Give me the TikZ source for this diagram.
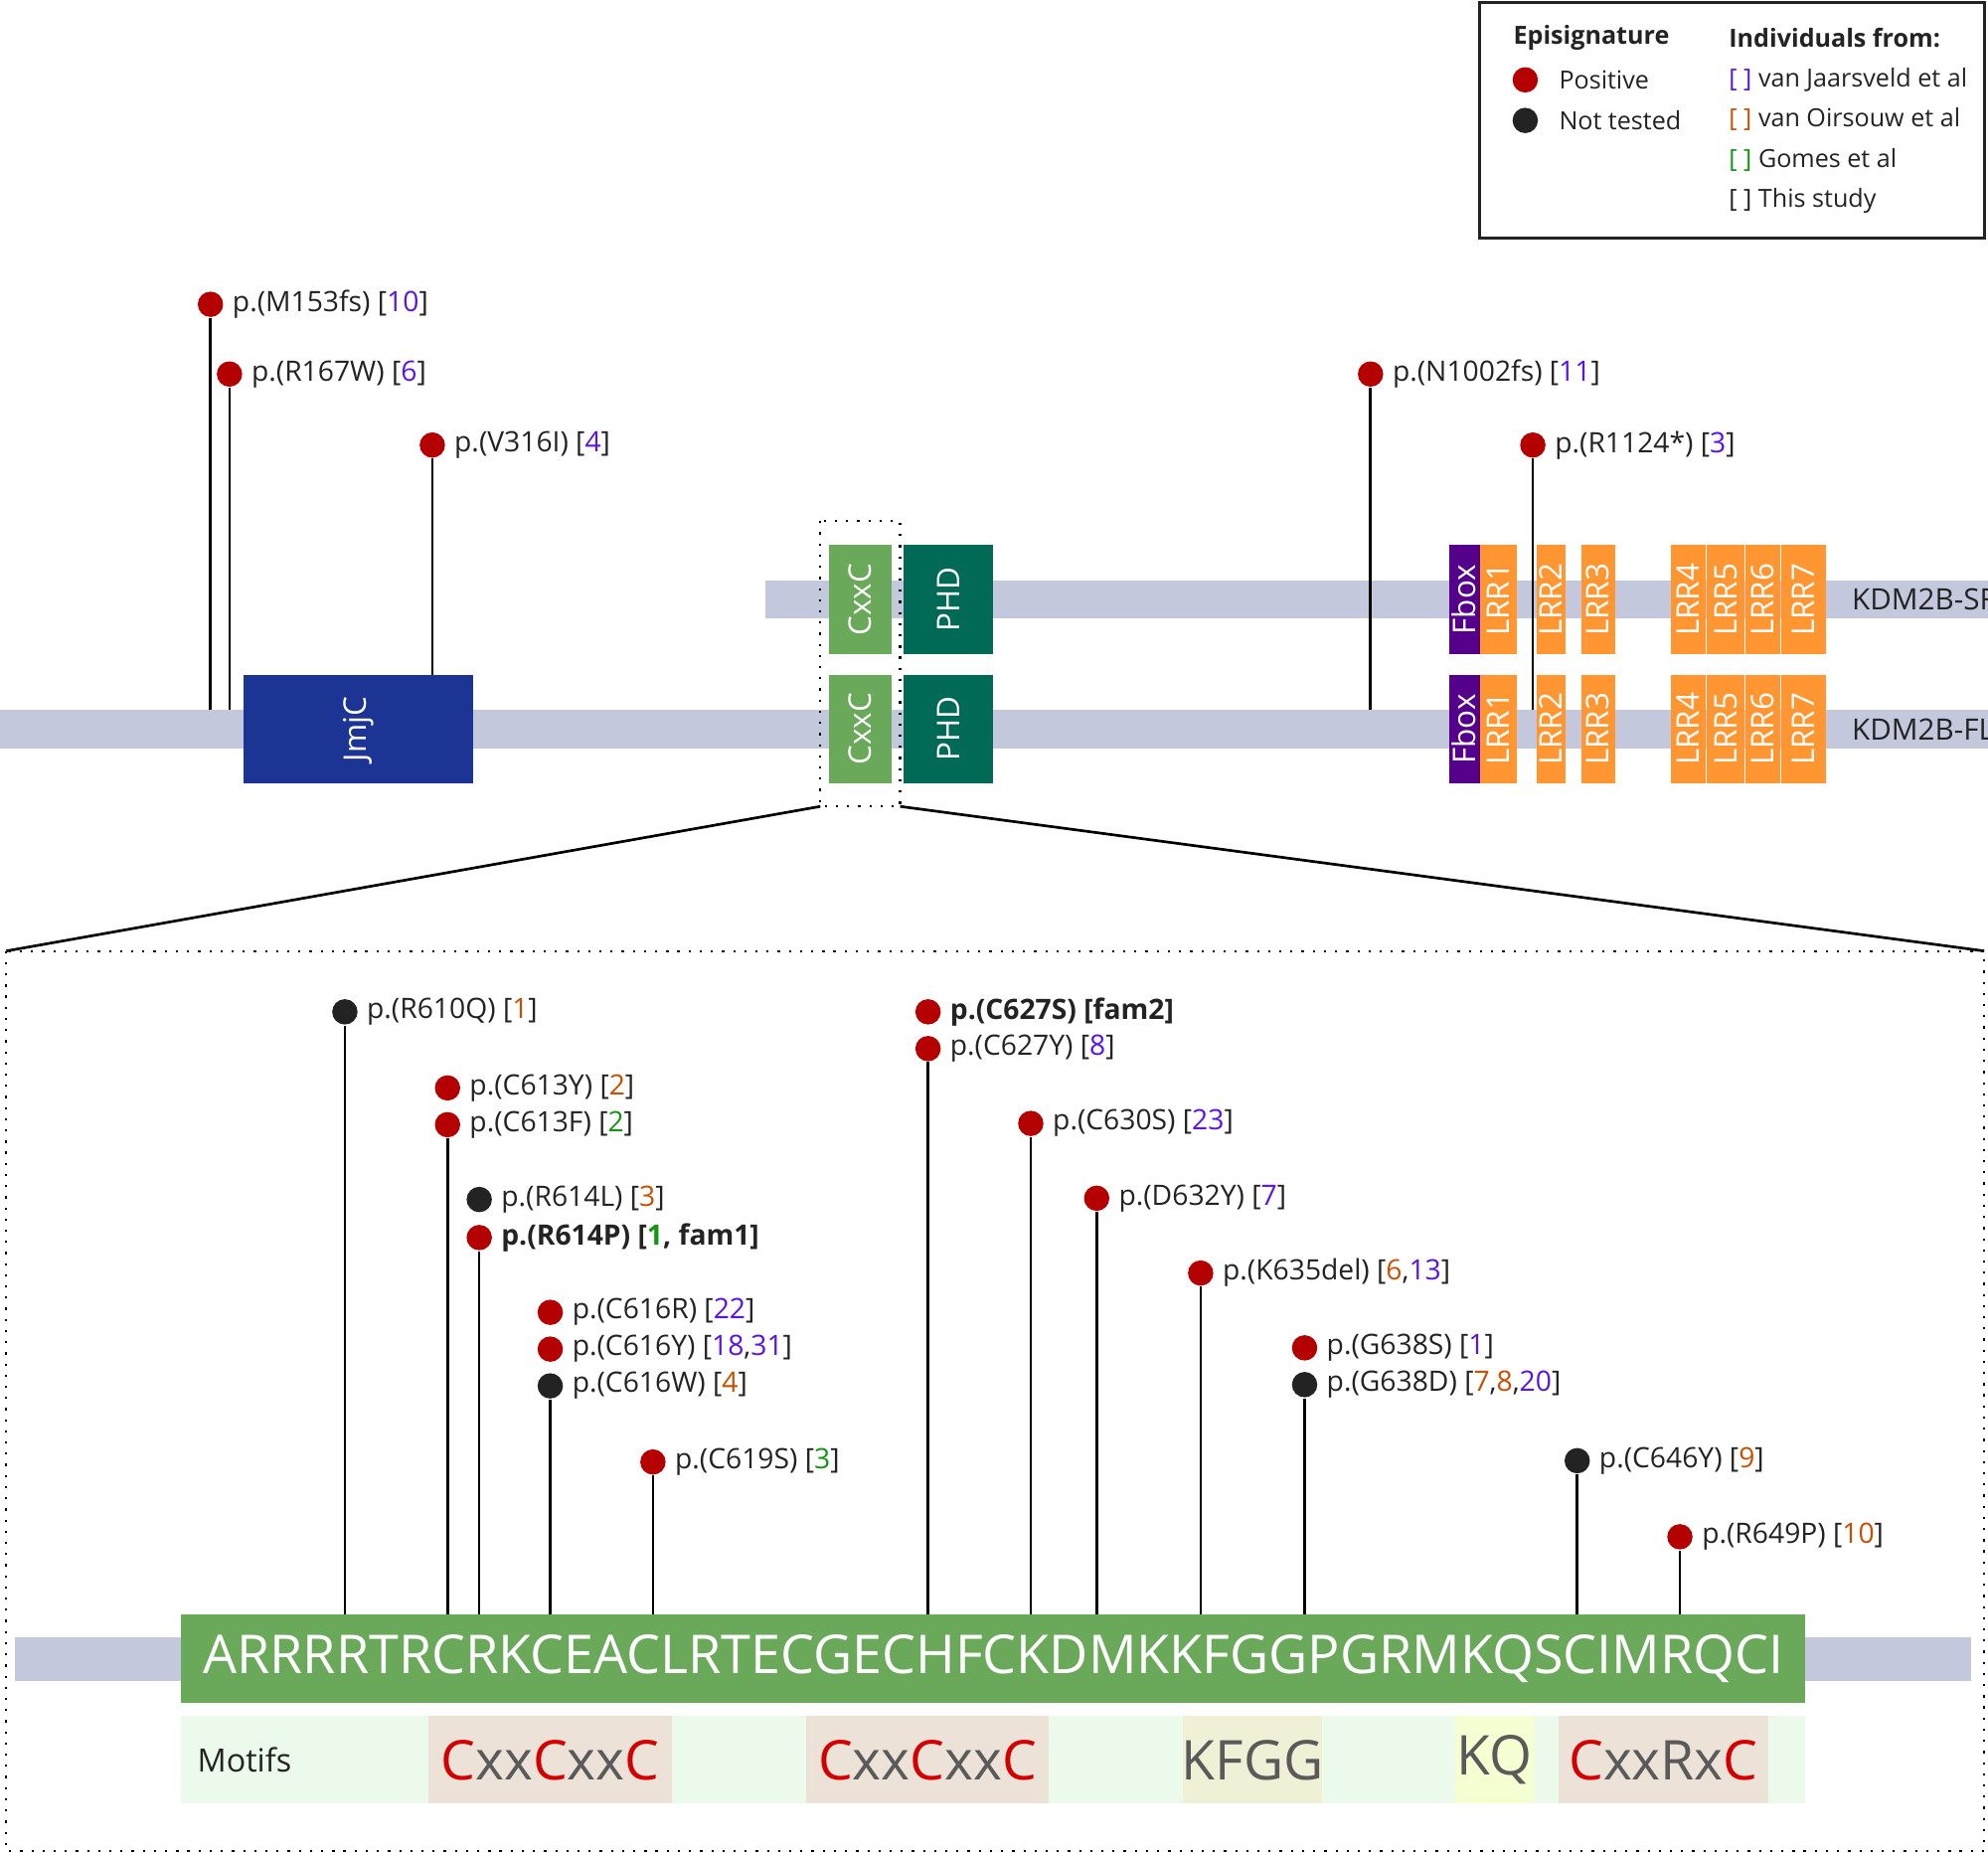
\documentclass[tikz,border=0pt]{standalone}
\usepackage{fontspec}
\setmainfont{Open Sans}
\usetikzlibrary{positioning}
\definecolor{bargray}{RGB}{196,200,220}
\definecolor{jmjc}{RGB}{28,52,148}
\definecolor{cxxc}{RGB}{106,168,90}
\definecolor{phd}{RGB}{0,106,86}
\definecolor{fbox}{RGB}{84,0,140}
\definecolor{lrr}{RGB}{255,150,50}
\definecolor{posred}{RGB}{180,0,0}
\definecolor{ntblack}{RGB}{35,35,35}
\definecolor{refpur}{RGB}{90,20,230}
\definecolor{reforg}{RGB}{200,80,0}
\definecolor{refgrn}{RGB}{20,150,20}
\definecolor{motbg}{RGB}{236,250,236}
\definecolor{motbox}{RGB}{236,226,216}
\definecolor{motkf}{RGB}{240,240,214}
\definecolor{motkq}{RGB}{244,255,210}
\definecolor{motred}{RGB}{210,0,0}
\definecolor{motgray}{RGB}{90,90,90}
\newcommand{\pu}[1]{\textcolor{refpur}{#1}}
\newcommand{\og}[1]{\textcolor{reforg}{#1}}
\newcommand{\gr}[1]{\textcolor{refgrn}{#1}}
\newcommand{\rc}{\textcolor{motred}{C}}
\begin{document}
\begin{tikzpicture}[x=0.01cm,y=-0.01cm,
  posdot/.style={circle,fill=posred,inner sep=0pt,minimum size=0.2cm},
  nt/.style={circle,fill=ntblack,inner sep=0pt,minimum size=0.2cm},
  lab/.style={right=0.06cm,inner sep=0pt,font=\fontsize{6.3}{7}\selectfont,text=ntblack},
  leg/.style={right=0pt,inner sep=0pt,font=\fontsize{5.6}{7}\selectfont,text=ntblack},
  stem/.style={line width=0.6pt,black},
  dom/.style={inner sep=0pt,text=white,font=\fontsize{7}{8}\selectfont},
  dlab/.style={rotate=90,text=white,font=\fontsize{7}{8}\selectfont},
  motif/.style={inner sep=0pt,font=\fontsize{12.3}{14}\selectfont,text=motgray}]
\useasboundingbox (0,0) rectangle (1568,1461);

% legend
\draw[line width=0.6pt,ntblack] (1167,2) rectangle (1565,188);
\node[leg,font=\fontsize{5.6}{7}\selectfont\bfseries] (lgE) at (1193,30) {Episignature};
\node[leg,font=\fontsize{5.6}{7}\selectfont\bfseries] (lgI) at (1363,30) {Individuals from:};
\node[posdot] (lgP) at (1203,63) {};
\node[nt] (lgN) at (1203,95) {};
\node[leg] at (1229,63) {Positive};
\node[leg] at (1229,95) {Not tested};
\node[leg] at (1363,63) {\pu{[ ]} van Jaarsveld et al};
\node[leg] at (1363,94) {\og{[ ]} van Oirsouw et al};
\node[leg] at (1363,126) {\gr{[ ]} Gomes et al};
\node[leg] at (1363,158) {[ ] This study};

% protein bars
\fill[bargray] (0,560) rectangle (1568,590);
\fill[bargray] (604,458) rectangle (1568,488);

% top lollipops (drawn first, domains on top)
\node[posdot] (m153) at (166,240) {};
\node[lab] at (m153.east) {p.(M153fs) [\pu{10}]};
\coordinate (m153b) at (166,560);
\draw[stem] (m153b) -- (m153);
\node[posdot] (r167) at (181,295) {};
\node[lab] at (r167.east) {p.(R167W) [\pu{6}]};
\coordinate (r167b) at (181,560);
\draw[stem] (r167b) -- (r167);
\node[posdot] (v316) at (341,351) {};
\node[lab] at (v316.east) {p.(V316I) [\pu{4}]};
\coordinate (v316b) at (341,532);
\draw[stem] (v316b) -- (v316);
\node[posdot] (n1002) at (1081,295) {};
\node[lab] at (n1002.east) {p.(N1002fs) [\pu{11}]};
\coordinate (n1002b) at (1081,560);
\draw[stem] (n1002b) -- (n1002);
\node[posdot] (r1124) at (1209,351) {};
\node[lab] at (r1124.east) {p.(R1124*) [\pu{3}]};
\coordinate (r1124b) at (1209,560);
\draw[stem] (r1124b) -- (r1124);

% domains FL
\node[dom,fill=jmjc,minimum width=1.81cm,minimum height=0.86cm] (jmjc) at (282.5,575) {};
\node[dlab] at (jmjc) {JmjC};
\node[dom,fill=cxxc,minimum width=0.49cm,minimum height=0.86cm] (cxxcF) at (678.5,575) {};
\node[dlab] at (cxxcF) {CxxC};
\node[dom,fill=phd,minimum width=0.70cm,minimum height=0.86cm] (phdF) at (748,575) {};
\node[dlab] at (phdF) {PHD};
% domains SF
\node[dom,fill=cxxc,minimum width=0.49cm,minimum height=0.86cm] (cxxcS) at (678.5,473) {};
\node[dlab] at (cxxcS) {CxxC};
\node[dom,fill=phd,minimum width=0.70cm,minimum height=0.86cm] (phdS) at (748,473) {};
\node[dlab] at (phdS) {PHD};

% Fbox and LRRs, both isoforms
\foreach \yy/\iso in {473/S,575/F}{
  \node[dom,fill=fbox,minimum width=0.24cm,minimum height=0.86cm] (fb\iso) at (1155,\yy) {};
  \node[dlab] at (fb\iso) {Fbox};
  \foreach \xa/\xb/\n in {1167/1196/1,1212/1235/2,1247/1274/3,1318/1345/4,1346/1376/5,1377/1404/6,1405/1440/7}{
    \fill[lrr] (\xa,\yy-43) rectangle (\xb,\yy+43);
    \node[dlab] at ({(\xa+\xb)/2},\yy) {LRR\n};
  }
}
\draw[stem] (1209,488) -- (1209,560);
\node[leg,font=\fontsize{6.6}{8}\selectfont] at (1460,473) {KDM2B-SF};
\node[leg,font=\fontsize{6.6}{8}\selectfont] at (1460,575) {KDM2B-FL};

% zoom
\draw[dotted,line width=0.5pt] (647,411) rectangle (710,636);
\coordinate (zl) at (647,636);
\coordinate (zr) at (710,636);
\coordinate (bl) at (5,750);
\coordinate (br) at (1565,750);
\draw[line width=0.6pt] (zl) -- (bl);
\draw[line width=0.6pt] (zr) -- (br);
\draw[dotted,line width=0.5pt] (bl) rectangle (1565,1460);

% sequence
\fill[bargray] (12,1291) rectangle (1555,1326);
\fill[cxxc] (143,1273) rectangle (1424,1343);
\node[inner sep=0pt,text=white,font=\fontsize{12.0}{14}\selectfont] (seq) at (783.5,1308) {ARRRRTRCRKCEACLRTECGECHFCKDMKKFGGPGRMKQSCIMRQCI};

% motifs
\fill[motbg] (143,1353) rectangle (1424,1422);
\fill[motbox] (338,1353) rectangle (530,1422);
\fill[motbox] (636,1353) rectangle (827,1422);
\fill[motkf] (933,1353) rectangle (1043,1422);
\fill[motkq] (1148,1353) rectangle (1210,1422);
\fill[motbox] (1229,1353) rectangle (1395,1422);
\node[leg,font=\fontsize{7.2}{9}\selectfont] at (155,1388) {Motifs};
\node[motif] at (434,1388) {\rc xx\rc xx\rc};
\node[motif] at (731.5,1388) {\rc xx\rc xx\rc};
\node[motif] at (988,1388) {KFGG};
\node[motif] at (1179,1388) {KQ};
\node[motif] at (1312,1388) {\rc xxRx\rc};

% bottom lollipops
\node[nt] (r610) at (272,798) {};
\node[lab] at (r610.east) {p.(R610Q) [\og{1}]};
\coordinate (r610b) at (272,1273);
\draw[stem] (r610b) -- (r610);

\node[posdot] (c613f) at (353,887) {};
\node[lab] at (c613f.east) {p.(C613F) [\gr{2}]};
\node[posdot] (c613y) at (353,858) {};
\node[lab] at (c613y.east) {p.(C613Y) [\og{2}]};
\coordinate (c613b) at (353,1273);
\draw[stem] (c613b) -- (c613f);

\node[posdot] (r614p) at (378,976) {};
\node[lab,font=\fontsize{6.3}{7}\selectfont\bfseries] at (r614p.east) {p.(R614P) [\gr{1}, fam1]};
\node[nt] (r614l) at (378,946) {};
\node[lab] at (r614l.east) {p.(R614L) [\og{3}]};
\coordinate (r614b) at (378,1273);
\draw[stem] (r614b) -- (r614p);

\node[nt] (c616w) at (434,1093) {};
\node[lab] at (c616w.east) {p.(C616W) [\og{4}]};
\node[posdot] (c616y) at (434,1064) {};
\node[lab] at (c616y.east) {p.(C616Y) [\pu{18},\pu{31}]};
\node[posdot] (c616r) at (434,1035) {};
\node[lab] at (c616r.east) {p.(C616R) [\pu{22}]};
\coordinate (c616b) at (434,1273);
\draw[stem] (c616b) -- (c616w);

\node[posdot] (c619) at (515,1153) {};
\node[lab] at (c619.east) {p.(C619S) [\gr{3}]};
\coordinate (c619b) at (515,1273);
\draw[stem] (c619b) -- (c619);

\node[posdot] (c627y) at (732,827) {};
\node[lab] at (c627y.east) {p.(C627Y) [\pu{8}]};
\node[posdot] (c627s) at (732,798) {};
\node[lab,font=\fontsize{6.3}{7}\selectfont\bfseries] at (c627s.east) {p.(C627S) [fam2]};
\coordinate (c627b) at (732,1273);
\draw[stem] (c627b) -- (c627y);

\node[posdot] (c630) at (813,886) {};
\node[lab] at (c630.east) {p.(C630S) [\pu{23}]};
\coordinate (c630b) at (813,1273);
\draw[stem] (c630b) -- (c630);

\node[posdot] (d632) at (865,945) {};
\node[lab] at (d632.east) {p.(D632Y) [\pu{7}]};
\coordinate (d632b) at (865,1273);
\draw[stem] (d632b) -- (d632);

\node[posdot] (k635) at (947,1004) {};
\node[lab] at (k635.east) {p.(K635del) [\og{6},\pu{13}]};
\coordinate (k635b) at (947,1273);
\draw[stem] (k635b) -- (k635);

\node[nt] (g638d) at (1029,1092) {};
\node[lab] at (g638d.east) {p.(G638D) [\og{7},\og{8},\pu{20}]};
\node[posdot] (g638s) at (1029,1063) {};
\node[lab] at (g638s.east) {p.(G638S) [\pu{1}]};
\coordinate (g638b) at (1029,1273);
\draw[stem] (g638b) -- (g638d);

\node[nt] (c646) at (1244,1152) {};
\node[lab] at (c646.east) {p.(C646Y) [\og{9}]};
\coordinate (c646b) at (1244,1273);
\draw[stem] (c646b) -- (c646);

\node[posdot] (r649) at (1325,1212) {};
\node[lab] at (r649.east) {p.(R649P) [\og{10}]};
\coordinate (r649b) at (1325,1273);
\draw[stem] (r649b) -- (r649);
\end{tikzpicture}
\end{document}
